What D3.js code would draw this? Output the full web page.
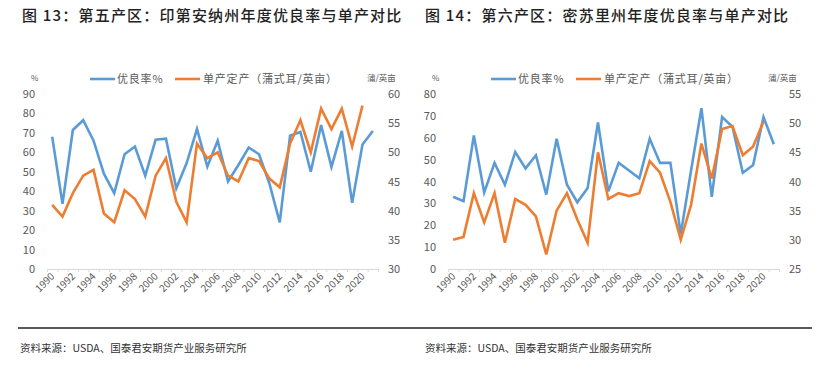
<!DOCTYPE html>
<html>
<head>
<meta charset="utf-8">
<script src="https://cdn.jsdelivr.net/npm/d3@7"></script>
<style>
  html, body { margin: 0; padding: 0; background: #fff; }
  svg text { font-family: "Noto Sans CJK SC", "Noto Sans", sans-serif; }
</style>
</head>
<body>
<div id="chart"></div>
<script>
// --- DATA ---
const years = [1990, 1991, 1992, 1993, 1994, 1995, 1996, 1997, 1998, 1999,
               2000, 2001, 2002, 2003, 2004, 2005, 2006, 2007, 2008, 2009,
               2010, 2011, 2012, 2013, 2014, 2015, 2016, 2017, 2018, 2019,
               2020, 2021];
const yearLabels = ["1990", "1992", "1994", "1996", "1998", "2000", "2002", "2004",
                    "2006", "2008", "2010", "2012", "2014", "2016", "2018", "2020"];

// 印第安纳州: 优良率% (1990-2021), 单产 (1990-2020)
const indianaGood = [68, 33.5, 71.5, 76.5, 66, 49, 39, 59, 63, 48,
                     66.5, 67, 41.5, 54.5, 72, 52.6, 66, 45, 53.5, 62.5,
                     59, 44, 24, 68.5, 70.5, 50, 74, 52.5, 71, 34,
                     64, 71];
const indianaYield = [41, 39, 43, 46, 47, 39.5, 38, 43.5, 42, 39,
                      46, 49, 41.5, 38, 51.5, 49, 50, 46, 45, 49,
                      48.5, 45.5, 44, 51.5, 55.5, 50, 57.5, 54, 57.5, 51,
                      58];

// 密苏里州
const missouriGood = [33, 31, 61, 35, 48.5, 38.5, 53.5, 46, 52, 34,
                      59.5, 38.5, 30.5, 37, 67, 35.5, 48.5, 45, 41.5, 59.5,
                      48.5, 48.5, 16, 45, 73.5, 33, 69.5, 65, 44, 47.5,
                      69.5, 57];
const missouriYield = [30, 30.5, 38, 33, 38, 29.5, 37, 36, 34, 27.5,
                       35, 38, 33.5, 29.5, 45, 37, 38, 37.5, 38, 43.5,
                       41.5, 36.5, 30, 36, 46.5, 40.5, 49, 49.5, 44.5, 46,
                       50.3];

const leftTicksA = [0, 10, 20, 30, 40, 50, 60, 70, 80, 90];
const rightTicksA = [30, 35, 40, 45, 50, 55, 60];
const leftTicksB = [0, 10, 20, 30, 40, 50, 60, 70, 80];
const rightTicksB = [25, 30, 35, 40, 45, 50, 55];

const BLUE = "#5b9bd5";
const ORANGE = "#ed7d31";
const LABEL = "#595959";

// --- SVG ---
const svg = d3.select("#chart").append("svg")
    .attr("width", 824)
    .attr("height", 368);

// titles
svg.append("text").attr("x", 22).attr("y", 21)
    .attr("font-size", 15).attr("font-weight", 500).attr("fill", "#222")
    .attr("letter-spacing", 1.2)
    .text("图 13：第五产区：印第安纳州年度优良率与单产对比");
svg.append("text").attr("x", 425).attr("y", 21)
    .attr("font-size", 15).attr("font-weight", 500).attr("fill", "#222")
    .attr("letter-spacing", 1.2)
    .text("图 14：第六产区：密苏里州年度优良率与单产对比");

// --- PANEL ---
function drawPanel(opt) {
    const g = svg.append("g");
    const yTop = 94, yBottom = 269;

    const xIdx = d3.scaleLinear().domain([0, years.length]).range([opt.x0, opt.x1]);
    const xBand = d3.scaleBand().domain(years).range([opt.x0, opt.x1]);
    const xc = yr => xBand(yr) + xBand.bandwidth() / 2;

    const yL = d3.scaleLinear().domain([opt.leftTicks[0], opt.leftTicks[opt.leftTicks.length - 1]])
        .range([yBottom, yTop]);
    const yR = d3.scaleLinear().domain([opt.rightTicks[0], opt.rightTicks[opt.rightTicks.length - 1]])
        .range([yBottom, yTop]);

    // x axis (ticks at category boundaries)
    const xAxis = g.append("g")
        .attr("transform", `translate(0,${yBottom})`)
        .call(d3.axisBottom(xIdx).tickValues(d3.range(years.length + 1)).tickSize(3).tickFormat(""));
    xAxis.select(".domain").attr("stroke", "#d9d9d9");
    xAxis.selectAll(".tick line").attr("stroke", "#d9d9d9");

    g.selectAll(".year-label")
        .data(yearLabels)
        .enter().append("text")
        .attr("class", "year-label")
        .attr("text-anchor", "end")
        .attr("font-size", 10)
        .attr("fill", LABEL)
        .attr("transform", d => `translate(${xc(+d) + 3},${yBottom + 8}) rotate(-45)`)
        .text(d => d);

    // left axis
    const la = g.append("g")
        .attr("transform", `translate(${opt.x0 - 9},0)`)
        .call(d3.axisLeft(yL).tickValues(opt.leftTicks).tickSize(0));
    la.select(".domain").remove();
    la.selectAll("text").attr("font-size", 11).attr("fill", LABEL)
        .attr("font-family", "'Liberation Sans', Arial, sans-serif");

    // right axis
    const ra = g.append("g")
        .attr("transform", `translate(${opt.x1 + 7},0)`)
        .call(d3.axisRight(yR).tickValues(opt.rightTicks).tickSize(0));
    ra.select(".domain").remove();
    ra.selectAll("text").attr("font-size", 11).attr("fill", LABEL)
        .attr("font-family", "'Liberation Sans', Arial, sans-serif");

    // units
    g.append("text").attr("x", opt.x0 - 16).attr("y", 81)
        .attr("font-size", 8).attr("fill", LABEL).text("%");
    g.append("text").attr("x", opt.x1 - 11).attr("y", 81)
        .attr("font-size", 8.5).attr("fill", LABEL).text("蒲/英亩");

    // lines
    const lineL = d3.line().x((d, i) => xc(years[i])).y(d => yL(d));
    const lineR = d3.line().x((d, i) => xc(years[i])).y(d => yR(d));

    g.append("path").datum(opt.good)
        .attr("d", lineL)
        .attr("fill", "none").attr("stroke", BLUE).attr("stroke-width", 2.6)
        .attr("stroke-linejoin", "miter");
    g.append("path").datum(opt.yield)
        .attr("d", lineR)
        .attr("fill", "none").attr("stroke", ORANGE).attr("stroke-width", 2.6)
        .attr("stroke-linejoin", "miter");

    // legend
    const lg = g.append("g").attr("transform", `translate(${opt.x0 + 43},79)`);
    lg.append("line").attr("x1", 0).attr("x2", 25).attr("y1", 0).attr("y2", 0)
        .attr("stroke", BLUE).attr("stroke-width", 2.6);
    lg.append("text").attr("x", 27).attr("y", 4).attr("font-size", 11)
        .attr("fill", LABEL).attr("letter-spacing", 0.8).text("优良率%");
    lg.append("line").attr("x1", 85).attr("x2", 110).attr("y1", 0).attr("y2", 0)
        .attr("stroke", ORANGE).attr("stroke-width", 2.6);
    lg.append("text").attr("x", 113).attr("y", 4).attr("font-size", 11)
        .attr("fill", LABEL).attr("letter-spacing", 0.8).text("单产定产（蒲式耳/英亩）");
}

drawPanel({ x0: 47, x1: 378, good: indianaGood, yield: indianaYield,
            leftTicks: leftTicksA, rightTicks: rightTicksA });
drawPanel({ x0: 448, x1: 779, good: missouriGood, yield: missouriYield,
            leftTicks: leftTicksB, rightTicks: rightTicksB });

// --- FOOTER ---
svg.append("line").attr("x1", 18).attr("x2", 812).attr("y1", 328).attr("y2", 328)
    .attr("stroke", "#222").attr("stroke-width", 1.4);
svg.append("text").attr("x", 20).attr("y", 352).attr("font-size", 10.5).attr("fill", "#333")
    .text("资料来源：USDA、国泰君安期货产业服务研究所");
svg.append("text").attr("x", 425).attr("y", 352).attr("font-size", 10.5).attr("fill", "#333")
    .text("资料来源：USDA、国泰君安期货产业服务研究所");
</script>
</body>
</html>
